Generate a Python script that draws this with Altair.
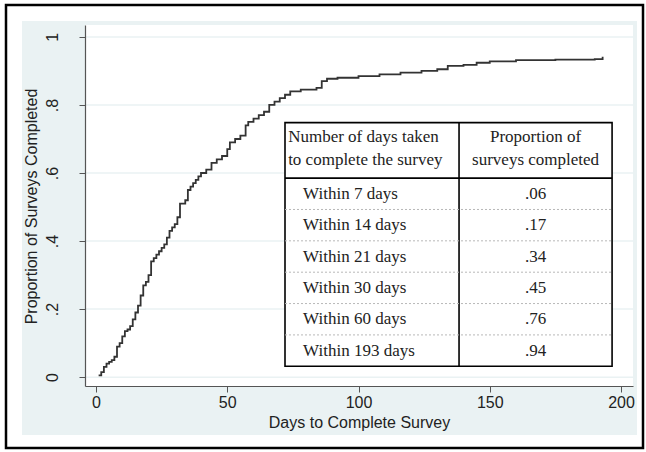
import altair as alt
import pandas as pd

# ---- data ----
days = [1, 2, 3, 4, 5, 6, 7, 8, 9, 10, 11, 12, 13, 14, 15, 16, 17, 18, 19, 20,
        21, 22, 23, 24, 25, 26, 27, 28, 29, 30, 31, 32, 33, 34, 35, 36, 37, 38, 39, 40,
        42, 44, 46, 48, 50, 51, 53, 55, 57, 58, 60, 62, 64, 66, 68, 70, 72, 74, 78, 84,
        86, 88, 92, 100, 108, 116, 124, 130, 134, 140, 145, 150, 160, 175, 190, 193]
props = [.005, .015, .03, .04, .045, .05, .06, .09, .10, .12, .135, .14, .15, .17, .19, .21, .24, .27, .28, .30,
         .34, .35, .36, .37, .38, .39, .41, .43, .44, .45, .47, .51, .51, .52, .55, .56, .57, .58, .59, .60,
         .61, .63, .64, .65, .67, .69, .70, .71, .74, .75, .76, .77, .78, .80, .81, .82, .83, .84, .845, .85,
         .87, .877, .88, .885, .89, .895, .90, .905, .915, .918, .924, .928, .932, .933, .935, .942]

x_ticks = [0, 50, 100, 150, 200]
y_ticks = [0, 0.2, 0.4, 0.6, 0.8, 1]

table_head_left = ["Number of days taken", "to complete the survey"]
table_head_right = ["Proportion of", "surveys completed"]
table_rows = ["Within 7 days", "Within 14 days", "Within 21 days",
              "Within 30 days", "Within 60 days", "Within 193 days"]
table_vals = [0.06, 0.17, 0.34, 0.45, 0.76, 0.94]

# ---- layout ----
W, H = 548, 361
XDOM = [-4.19, 204.57]
YDOM = [-0.026, 1.035]
SANS = "Liberation Sans"
SERIF = "Liberation Serif"
BG = "#EAF2F3"
FS_T = 17

xs = alt.Scale(domain=XDOM, nice=False, zero=False)
ys = alt.Scale(domain=YDOM, nice=False, zero=False)

xa = alt.Axis(
    values=x_ticks, grid=False, title="Days to Complete Survey",
    labelFont=SANS, labelFontSize=16, labelColor="#222", labelPadding=2,
    tickSize=6, tickColor="#555", domainColor="#555", domainWidth=1.2,
    titleFont=SANS, titleFontSize=16, titleFontWeight="normal", titleColor="#222",
    titleBaseline="alphabetic", titleY=41, zindex=1)
ya = alt.Axis(
    values=y_ticks, grid=False, title="Proportion of Surveys Completed",
    labelExpr="datum.value == 0 ? '0' : datum.value == 1 ? '1' : '.' + format(datum.value*10, 'd')",
    labelAngle=270, labelAlign="center", labelBaseline="bottom", labelPadding=19,
    labelFont=SANS, labelFontSize=16, labelColor="#222",
    tickSize=6, tickColor="#555", domainColor="#555", domainWidth=1.2,
    titleFont=SANS, titleFontSize=16, titleFontWeight="normal", titleColor="#222",
    titleAngle=270, titleBaseline="middle", titleX=-54, titleY=181, zindex=1)


def X(f):
    return alt.X(f, scale=xs, axis=xa)


def Y(f):
    return alt.Y(f, scale=ys, axis=ya)


# table layout (in data units)
TX0, TXM, TX1 = 72.0, 138.3, 196.6
TTOP, THEAD, TBOT = 0.748, 0.585, 0.032
n = len(table_rows)
rh = (THEAD - TBOT) / n

curve = pd.DataFrame({"day": days, "prop": props})

# decorative frame
one = pd.DataFrame({"a": [0]})
frame = alt.Chart(one).mark_rect(fill=None, stroke="black", strokeWidth=2.5).encode(
    x=alt.value(-79), x2=alt.value(558), y=alt.value(-20), y2=alt.value(423))
region = alt.Chart(one).mark_rect(fill=BG).encode(
    x=alt.value(-63), x2=alt.value(552), y=alt.value(-4), y2=alt.value(410))
plotbg = alt.Chart(one).mark_rect(fill="white").encode(
    x=alt.value(0), x2=alt.value(W), y=alt.value(0), y2=alt.value(H))

grid = alt.Chart(pd.DataFrame({"prop": y_ticks})).mark_rule(
    color=BG, strokeWidth=1.5
).encode(y=Y("prop:Q"))

line = alt.Chart(curve).mark_line(
    interpolate="step-after", color="#333333", strokeWidth=1.8
).encode(x=X("day:Q"), y=Y("prop:Q"))

# table
box = alt.Chart(pd.DataFrame({"x0": [TX0], "x1": [TX1], "y0": [TTOP], "y1": [TBOT]})).mark_rect(
    fill="white", stroke="black", strokeWidth=1.6
).encode(x=X("x0:Q"), x2="x1:Q", y=Y("y0:Q"), y2="y1:Q")

vdiv = alt.Chart(pd.DataFrame({"x": [TXM], "y0": [TTOP], "y1": [TBOT]})).mark_rule(
    color="black", strokeWidth=1.6
).encode(x=X("x:Q"), y=Y("y0:Q"), y2="y1:Q")

hdiv = alt.Chart(pd.DataFrame({"x0": [TX0], "x1": [TX1], "y": [THEAD]})).mark_rule(
    color="black", strokeWidth=1.6
).encode(x=X("x0:Q"), x2="x1:Q", y=Y("y:Q"))

seps = pd.DataFrame({"x0": TX0, "x1": TX1, "y": [THEAD - rh * (i + 1) for i in range(n - 1)]})
dashed = alt.Chart(seps).mark_rule(
    color="#b8b8b8", strokeWidth=1, strokeDash=[2, 2]
).encode(x=X("x0:Q"), x2="x1:Q", y=Y("y:Q"))

head_y = [0.706, 0.638]
hl = pd.DataFrame({"t": table_head_left, "x": TX0 + 1.2, "y": head_y})
hr = pd.DataFrame({"t": table_head_right, "x": (TXM + TX1) / 2, "y": head_y})
head_l = alt.Chart(hl).mark_text(align="left", baseline="middle", font=SERIF, fontSize=FS_T, color="#222").encode(
    x=X("x:Q"), y=Y("y:Q"), text="t:N")
head_r = alt.Chart(hr).mark_text(align="center", baseline="middle", font=SERIF, fontSize=FS_T, color="#222").encode(
    x=X("x:Q"), y=Y("y:Q"), text="t:N")

rows = pd.DataFrame({
    "label": table_rows, "v": table_vals,
    "y": [THEAD - rh * (i + 0.5) for i in range(n)],
    "xl": TX0 + 6.9, "xr": (TXM + TX1) / 2,
})
row_l = alt.Chart(rows).mark_text(align="left", baseline="middle", font=SERIF, fontSize=FS_T, color="#222").encode(
    x=X("xl:Q"), y=Y("y:Q"), text="label:N")
row_r = alt.Chart(rows).transform_calculate(
    s="replace(format(datum.v, '.2f'), '0.', '.')"
).mark_text(align="center", baseline="middle", font=SERIF, fontSize=FS_T, color="#222").encode(
    x=X("xr:Q"), y=Y("y:Q"), text="s:N")

chart = alt.layer(
    frame, region, plotbg, grid, line, box, vdiv, hdiv, dashed, head_l, head_r, row_l, row_r
).properties(
    width=W, height=H,
    padding={"left": 85, "top": 25, "right": 13, "bottom": 66},
    autosize=alt.AutoSizeParams(type="none"),
    background="white",
).configure_view(strokeWidth=0)

chart.save("out.html", embed_options={"renderer": "svg", "actions": False})
